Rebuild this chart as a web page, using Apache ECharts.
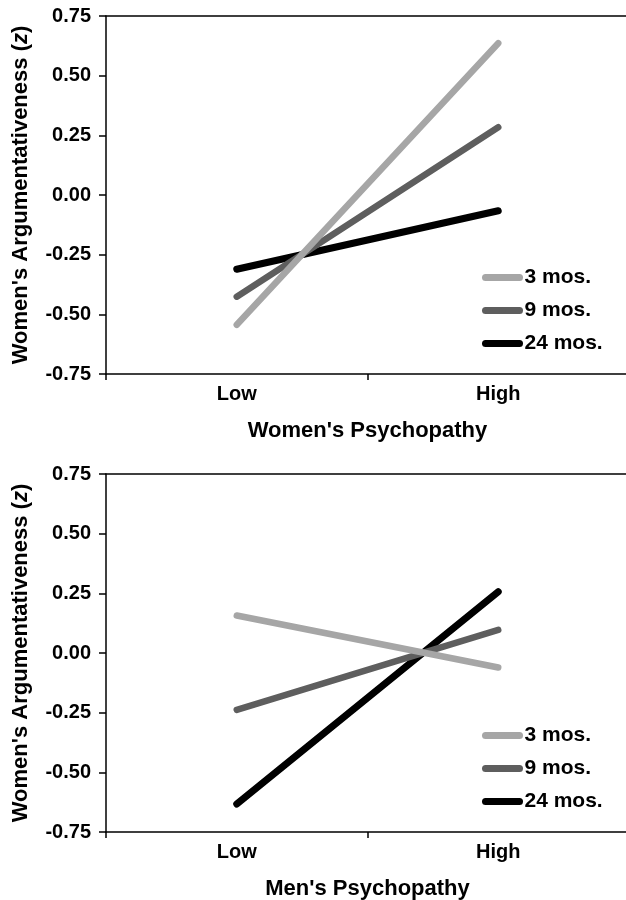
<!DOCTYPE html>
<html>
<head>
<meta charset="utf-8">
<script src="https://cdn.jsdelivr.net/npm/echarts@6/dist/echarts.min.js"></script>
<style>html,body{margin:0;padding:0;background:#fff}#c{width:626px;height:900px}</style>
</head>
<body>
<div id="c"></div>
<script>
var categories = ['Low', 'High'];
var seriesNames = ['3 mos.', '9 mos.', '24 mos.'];
var yTicks = [-0.75, -0.5, -0.25, 0, 0.25, 0.5, 0.75];
// Top panel: Women's Psychopathy
var top3 = [-0.544, 0.636];
var top9 = [-0.426, 0.284];
var top24 = [-0.311, -0.066];
// Bottom panel: Men's Psychopathy
var bot3 = [0.157, -0.061];
var bot9 = [-0.238, 0.097];
var bot24 = [-0.633, 0.257];

var colors = ['#a6a6a6', '#5e5e5e', '#000000'];
var widths = [6.5, 6.5, 7];
var FONT = '"Liberation Sans", Arial, Helvetica, sans-serif';

function xAxis(idx, name) {
  return {
    type: 'category', gridIndex: idx, data: categories, boundaryGap: true, position: 'bottom',
    name: name, nameLocation: 'middle', nameGap: 46,
    nameTextStyle: {color: '#000', fontWeight: 'bold', fontSize: 22, fontFamily: FONT},
    axisLine: {onZero: false, lineStyle: {color: '#000', width: 1.5}},
    axisTick: {show: true, length: 6, lineStyle: {color: '#000', width: 1.5}},
    axisLabel: {color: '#000', fontWeight: 'bold', fontSize: 20, fontFamily: FONT, margin: 10},
    splitLine: {show: false}
  };
}
function topAxis(idx) {
  return {
    type: 'category', gridIndex: idx, data: categories, boundaryGap: true, position: 'top',
    axisLine: {onZero: false, lineStyle: {color: '#000', width: 1.5}},
    axisTick: {show: false}, axisLabel: {show: false}, splitLine: {show: false}
  };
}
function yAxis(idx) {
  return {
    type: 'value', gridIndex: idx, min: yTicks[0], max: yTicks[yTicks.length - 1], interval: 0.25,
    name: "{b|Women's Argumentativeness (}{i|z}{b|)}", nameLocation: 'middle', nameGap: 74,
    nameTextStyle: {
      color: '#000', fontSize: 22, fontFamily: FONT,
      rich: {
        b: {fontWeight: 'bold', fontSize: 22, fontFamily: FONT, color: '#000'},
        i: {fontWeight: 'bold', fontStyle: 'italic', fontSize: 22, fontFamily: FONT, color: '#000'}
      }
    },
    axisLine: {show: true, onZero: false, lineStyle: {color: '#000', width: 1.5}},
    axisTick: {show: true, length: 7, lineStyle: {color: '#000', width: 1.5}},
    axisLabel: {color: '#000', fontWeight: 'bold', fontSize: 20, fontFamily: FONT, margin: 15,
      formatter: function (v) { return v.toFixed(2); }},
    splitLine: {show: false}
  };
}
function mkSeries(idx, arrs) {
  return arrs.map(function (d, i) {
    return {
      type: 'line', name: seriesNames[i], xAxisIndex: idx * 2, yAxisIndex: idx, data: d,
      symbol: 'none', showSymbol: false, color: colors[i],
      lineStyle: {color: colors[i], width: widths[i], cap: 'round'},
      z: 2 + (2 - i)
    };
  });
}
function legend(top) {
  return {
    orient: 'vertical', left: 482, top: top, itemWidth: 34, itemHeight: 7, itemGap: 12, padding: 0,
    data: seriesNames, selectedMode: false,
    lineStyle: {width: 7, cap: 'round'},
    textStyle: {color: '#000', fontWeight: 'bold', fontSize: 21, fontFamily: FONT, lineHeight: 20}
  };
}

var chart = echarts.init(document.getElementById('c'), null, {renderer: 'canvas'});
chart.setOption({
  backgroundColor: '#fff',
  animation: false,
  grid: [
    {left: 106, top: 16, width: 523, height: 358, outerBoundsMode: 'none', containLabel: false},
    {left: 106, top: 474, width: 523, height: 358, outerBoundsMode: 'none', containLabel: false}
  ],
  xAxis: [xAxis(0, "Women's Psychopathy"), topAxis(0), xAxis(1, "Men's Psychopathy"), topAxis(1)],
  yAxis: [yAxis(0), yAxis(1)],
  legend: [legend(267), legend(725)],
  series: mkSeries(0, [top3, top9, top24]).concat(mkSeries(1, [bot3, bot9, bot24]))
});
</script>
</body>
</html>
